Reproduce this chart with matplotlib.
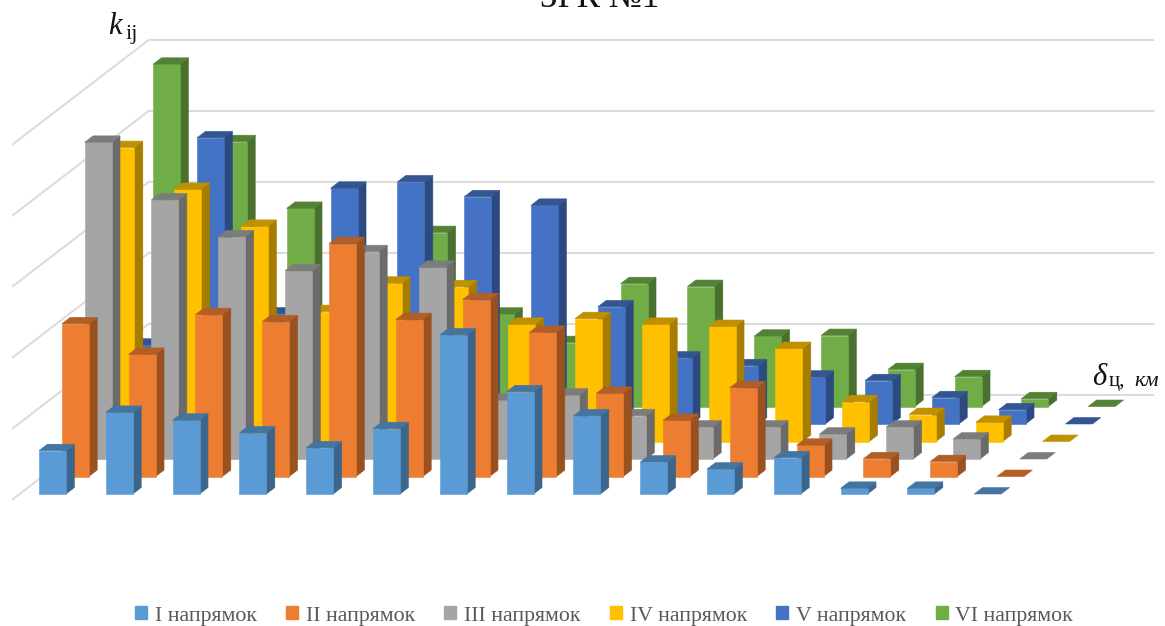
#!/usr/bin/env python
"""3D-style column chart of k_ij against range for six directions."""
import matplotlib
matplotlib.use("Agg")
import matplotlib.pyplot as plt
from matplotlib.colors import to_rgb
from matplotlib.patches import Patch, Polygon

SERIES_NAMES = ["I напрямок", "II напрямок", "III напрямок",
                "IV напрямок", "V напрямок", "VI напрямок"]
SERIES_COLORS = ["#5B9BD5", "#ED7D31", "#A5A5A5", "#FFC000", "#4472C4", "#70AD47"]

# k_ij per range step (15 steps, last one is zero everywhere)
DIR_I = [.061, .115, .104, .086, .065, .092, .224, .144, .110, .045, .035, .051, .008, .008, 0]
DIR_II = [.215, .172, .228, .218, .328, .221, .249, .203, .117, .079, .125, .044, .025, .021, 0]
DIR_III = [.446, .365, .313, .265, .292, .270, .083, .090, .061, .045, .045, .035, .045, .028, 0]
DIR_IV = [.414, .355, .303, .183, .223, .218, .165, .173, .165, .162, .131, .056, .038, .027, 0]
DIR_V = [.111, .403, .155, .332, .341, .320, .308, .165, .093, .082, .066, .061, .037, .020, 0]
DIR_VI = [.482, .373, .279, .169, .245, .130, .090, .173, .169, .099, .100, .052, .042, .011, 0]
SERIES_VALUES = [DIR_I, DIR_II, DIR_III, DIR_IV, DIR_V, DIR_VI]

GRID_TICKS = [0.0, 0.1, 0.2, 0.3, 0.4, 0.5]

# Oblique projection, in data units: one depth step moves right and up
SHEAR_X = 22.8 / 66.8
SHEAR_Y = 17.5 / 710
BAR_WIDTH = 0.404
BAR_DEPTH = 0.37
DEPTH_FRONT, DEPTH_BACK = -0.29, 5.66
CAT_LEFT, CAT_RIGHT = -0.29, 14.75


def project(cat, depth, k):
    return cat + depth * SHEAR_X, k + depth * SHEAR_Y


def shade(color, factor):
    return tuple(c * factor for c in to_rgb(color))


def draw_face(ax, corners, color, zorder):
    pts = [project(*c) for c in corners]
    ax.add_patch(Polygon(pts, closed=True, facecolor=color, edgecolor=color,
                         linewidth=0.4, zorder=zorder))


def draw_bar(ax, cat, depth, k, color, zorder):
    x0, x1 = cat, cat + BAR_WIDTH
    d0, d1 = depth, depth + BAR_DEPTH
    if k > 0:
        draw_face(ax, [(x1, d0, 0), (x1, d1, 0), (x1, d1, k), (x1, d0, k)], shade(color, 0.65), zorder)
        draw_face(ax, [(x0, d0, 0), (x1, d0, 0), (x1, d0, k), (x0, d0, k)], color, zorder)
    draw_face(ax, [(x0, d0, k), (x1, d0, k), (x1, d1, k), (x0, d1, k)], shade(color, 0.75), zorder)


fig = plt.figure(figsize=(11.65, 6.26), dpi=100)
ax = fig.add_axes([0, 0, 1, 1])
ax.set_xlim(-39 / 66.8, (1165 - 39) / 66.8)
ax.set_ylim(-132 / 710, 494 / 710)
ax.axis("off")

# Walls: gridlines along the back and down the left side
for k in GRID_TICKS:
    left = project(CAT_LEFT, DEPTH_FRONT, k)
    corner = project(CAT_LEFT, DEPTH_BACK, k)
    right = project(CAT_RIGHT, DEPTH_BACK, k)
    ax.plot([left[0], corner[0], right[0]], [left[1], corner[1], right[1]],
            color="#DCDCDC", linewidth=1.5, zorder=1, solid_joinstyle="miter")

# Back row first so nearer columns cover it
for s in range(len(SERIES_VALUES) - 1, -1, -1):
    for c, value in enumerate(SERIES_VALUES[s]):
        draw_bar(ax, c, s, value, SERIES_COLORS[s], zorder=10 - s)

serif = "Liberation Serif"
fig.text(600 / 1165, 1 - 7 / 626, "ЗРК №1", family=serif, fontsize=25, color="#111111",
         ha="center", va="baseline")
fig.text(108 / 1165, 1 - 34 / 626, "k", family=serif, style="italic", fontsize=22, color="#111111")
fig.text(126 / 1165, 1 - 39 / 626, "ij", family=serif, fontsize=16, color="#111111")
fig.text(1092 / 1165, 1 - 385 / 626, "δ", family=serif, style="italic", fontsize=22, color="#111111")
fig.text(1109 / 1165, 1 - 386 / 626, "ц,", family=serif, fontsize=15, color="#111111")
fig.text(1134 / 1165, 1 - 386 / 626, "км", family=serif, style="italic", fontsize=16, color="#111111")

handles = [Patch(facecolor=col, edgecolor=col) for col in SERIES_COLORS]
fig.legend(handles, SERIES_NAMES, loc="center", bbox_to_anchor=(604 / 1165, 1 - 616 / 626),
           ncols=6, frameon=False, prop={"family": serif, "size": 15.7}, labelcolor="#595959",
           handlelength=0.55, handleheight=0.55, handletextpad=0.35, columnspacing=1.35)

fig.savefig("out.png", dpi=100)
